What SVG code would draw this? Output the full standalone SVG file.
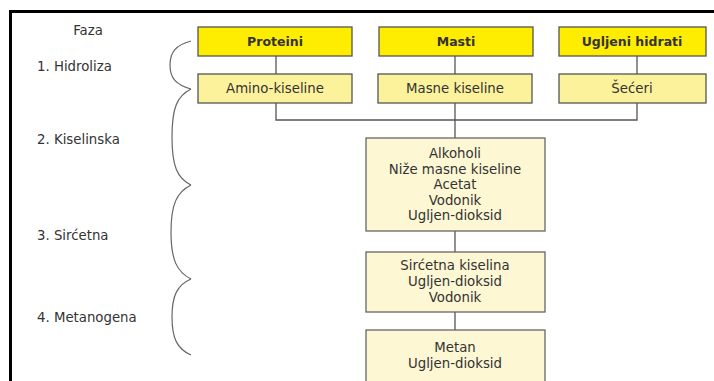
<svg xmlns="http://www.w3.org/2000/svg" width="714" height="381" viewBox="0 0 714 381">
<style>
text{font-family:"DejaVu Sans","Open Sans","Liberation Sans",sans-serif;font-size:13.3px;fill:#333;}
.c{text-anchor:middle;}
.b{font-weight:bold;font-size:12.5px;}
.top{fill:#FFED00;stroke:#555;stroke-width:1.3;}
.mid{fill:#FCF29C;stroke:#555;stroke-width:1.3;}
.low{fill:#FDF7D4;stroke:#666;stroke-width:1.3;}
.ln{stroke:#555;stroke-width:1.3;fill:none;}
.br{stroke:#666;stroke-width:1.2;fill:none;}
</style>
<rect x="0" y="0" width="714" height="381" fill="#fff"/>
<path d="M10.5,382 V11.5 H714" fill="none" stroke="#000" stroke-width="3"/>
<g id="phases">
<text x="88" y="35" class="c">Faza</text>
<text x="37" y="71">1. Hidroliza</text>
<text x="37" y="144">2. Kiselinska</text>
<text x="37" y="240">3. Sirćetna</text>
<text x="37" y="322">4. Metanogena</text>
</g>
<g id="braces">
<path class="br" d="M191,41 C176,45 170,52 170,65 C170,78 176,85 191,89"/>
<path class="br" d="M191,89 C177,96 172,108 172,137 C172,166 177,178 191,185"/>
<path class="br" d="M191,185 C177,192 171,204 171,232 C171,260 177,272 191,279"/>
<path class="br" d="M191,279 C177,285 172,296 172,317 C172,338 177,349 191,355"/>
</g>
<g id="connectors">
<path class="ln" d="M276,56 V74"/>
<path class="ln" d="M455,56 V74"/>
<path class="ln" d="M637,56 V74"/>
<path class="ln" d="M276,103 V120 H637 V103"/>
<path class="ln" d="M455,103 V138"/>
<path class="ln" d="M455,231 V252"/>
<path class="ln" d="M455,312 V330"/>
</g>
<g id="proteini"><rect class="top" x="198" y="27" width="154" height="29"/><text x="275" y="46" class="c b">Proteini</text></g>
<g id="masti"><rect class="top" x="379" y="27" width="154" height="29"/><text x="456" y="46" class="c b">Masti</text></g>
<g id="ugljeni-hidrati"><rect class="top" x="559" y="27" width="147" height="29"/><text x="632" y="46" class="c b">Ugljeni hidrati</text></g>
<g id="amino"><rect class="mid" x="198" y="74" width="154" height="29"/><text x="275" y="93" class="c">Amino-kiseline</text></g>
<g id="masne"><rect class="mid" x="378" y="74" width="154" height="29"/><text x="455" y="93" class="c">Masne kiseline</text></g>
<g id="seceri"><rect class="mid" x="559" y="74" width="147" height="29"/><text x="632" y="93" class="c">Šećeri</text></g>
<g id="kiselinska"><rect class="low" x="366" y="138" width="179" height="93"/>
<text class="c" x="455" y="158"><tspan x="455">Alkoholi</tspan><tspan x="455" dy="15.5">Niže masne kiseline</tspan><tspan x="455" dy="15.5">Acetat</tspan><tspan x="455" dy="15.8">Vodonik</tspan><tspan x="455" dy="15.5">Ugljen-dioksid</tspan></text>
</g>
<g id="sircetna"><rect class="low" x="366" y="252" width="179" height="60"/>
<text class="c" x="455" y="270"><tspan x="455">Sirćetna kiselina</tspan><tspan x="455" dy="16">Ugljen-dioksid</tspan><tspan x="455" dy="16">Vodonik</tspan></text>
</g>
<g id="metanogena"><rect class="low" x="366" y="330" width="179" height="60"/>
<text class="c" x="455" y="352"><tspan x="455">Metan</tspan><tspan x="455" dy="16">Ugljen-dioksid</tspan></text>
</g>
</svg>
